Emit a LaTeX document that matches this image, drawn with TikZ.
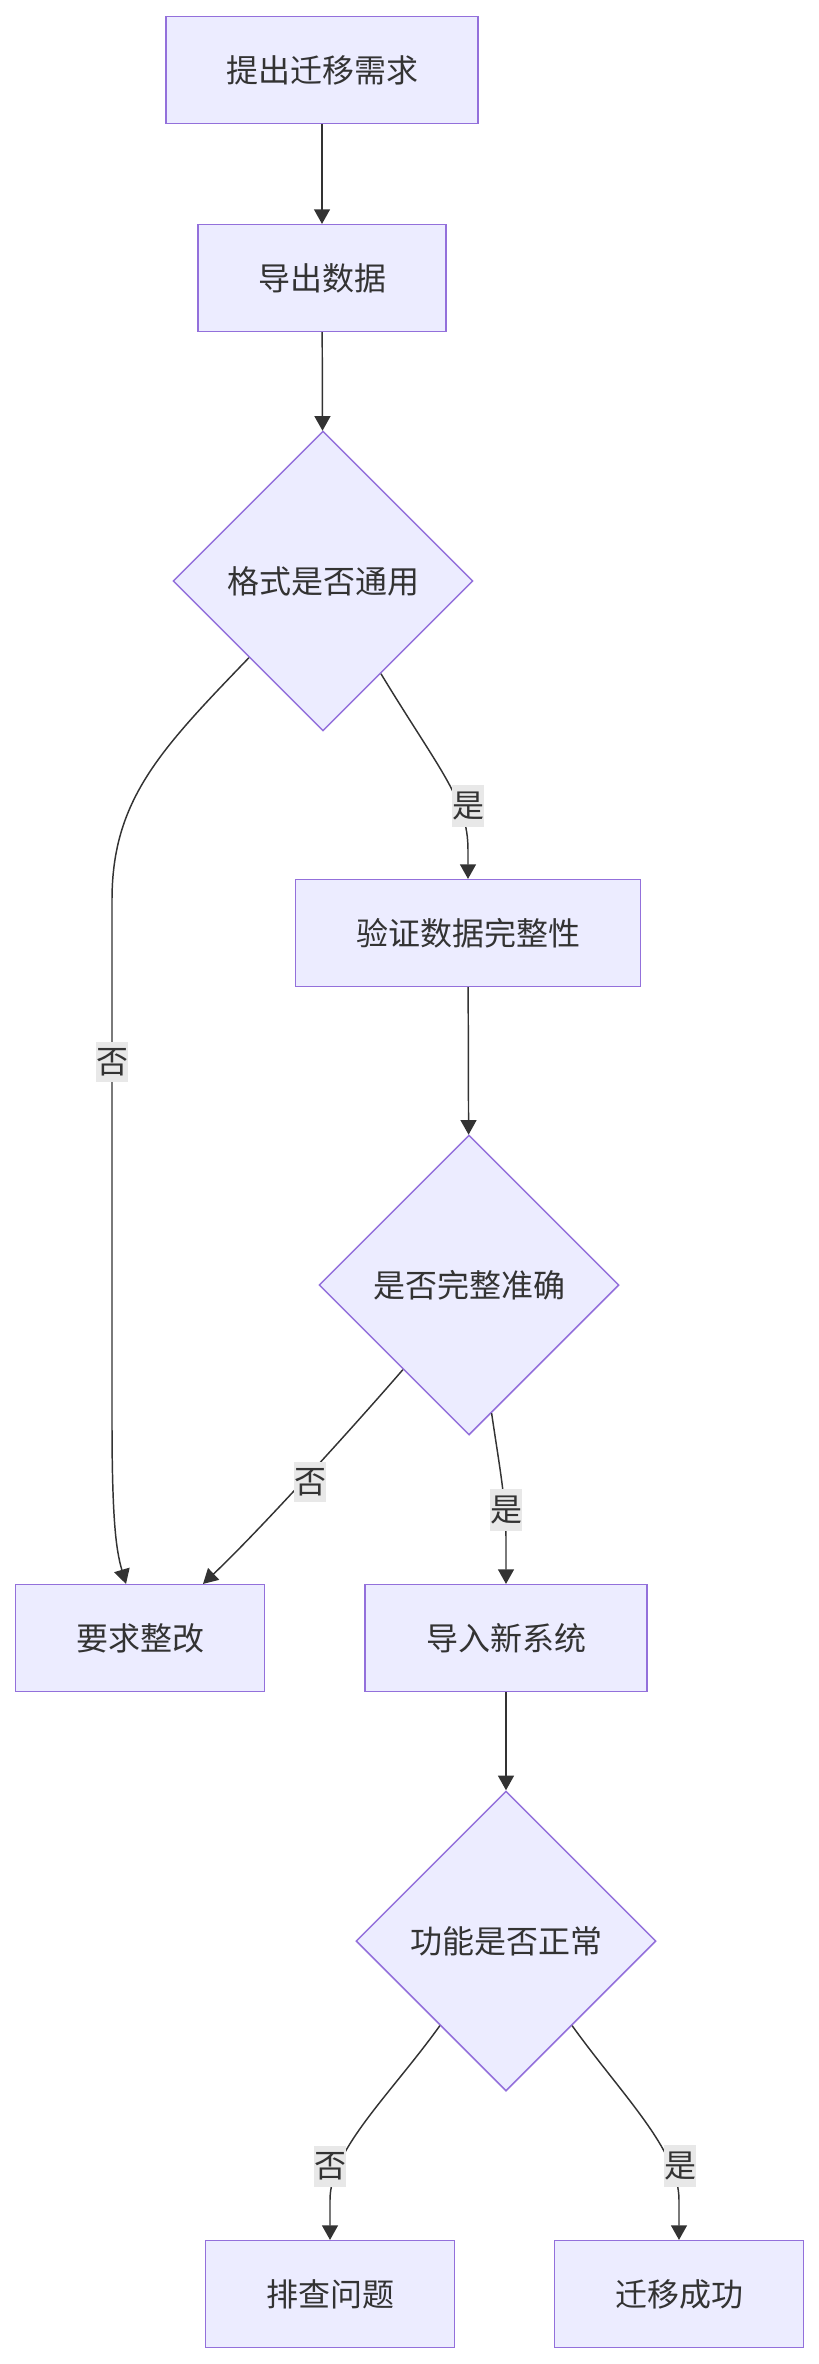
\documentclass[tikz,border=0pt]{standalone}
\usepackage{fontspec}
\newfontfamily\cjk{Noto Sans CJK SC}
\usetikzlibrary{shapes.geometric,arrows.meta,calc}
\definecolor{nodefill}{HTML}{ECECFF}
\definecolor{nodeborder}{HTML}{9370DB}
\definecolor{linecol}{HTML}{333333}
\definecolor{labelbg}{HTML}{E8E8E8}
\begin{document}
\begin{tikzpicture}[x=0.75pt,y=-0.75pt,
  txt/.style={font=\cjk\fontsize{24pt}{28pt}\selectfont, text=linecol},
  box/.style={txt, draw=nodeborder, fill=nodefill, line width=1.1pt, minimum height=80pt, inner sep=0pt},
  dia/.style={txt, diamond, aspect=1, draw=nodeborder, fill=nodefill, line width=1.1pt, minimum width=225pt, minimum height=225pt, inner sep=0pt},
  conn/.style={draw=linecol, line width=1.1pt, -{Triangle[length=11pt,width=12pt]}},
  elabel/.style={txt, fill=labelbg, inner xsep=0pt, inner ysep=5pt}]
\useasboundingbox (0,0) rectangle (818,2364);

\node[box, minimum width=234pt] (n1) at (322,70) {提出迁移需求};
\node[box, minimum width=186pt] (n2) at (322,278) {导出数据};
\node[dia] (d1) at (323,581) {格式是否通用};
\node[box, minimum width=259pt] (n3) at (468,933) {验证数据完整性};
\node[dia] (d2) at (469,1285) {是否完整准确};
\node[box, minimum width=187pt] (rework) at (140,1638) {要求整改};
\node[box, minimum width=211.5pt] (import) at (506,1638) {导入新系统};
\node[dia] (d3) at (506,1941) {功能是否正常};
\node[box, minimum width=187pt] (debug) at (330,2294) {排查问题};
\node[box, minimum width=187pt] (success) at (679,2294) {迁移成功};

\draw[conn] (n1) -- (n2);
\draw[conn] (n2) -- (d1);

% d1 -> n3 (yes)
\draw[conn] (d1.-58) .. controls (440,771) and (468,800) .. (468,850) -- (n3.north);
\node[elabel] (l1) at (468,806) {是};

% d1 -> rework (no)
\coordinate (r1) at ($(rework.north)+(-14,0)$);
\draw[conn] (d1.-134) .. controls (160,750) and (112,800) .. (112,900) -- (112,1420) .. controls (112,1520) and (116,1550) .. (r1);
\node[elabel] (l2) at (112,1062) {否};

\draw[conn] (n3) -- (d2);

% d2 -> rework (no)
\coordinate (r2) at ($(rework.north)+(63,0)$);
\draw[conn] (d2.-128) .. controls (355,1425) and (260,1530) .. (r2);
\node[elabel] (l3) at (310,1482) {否};

% d2 -> import (yes)
\draw[conn] (d2.-80) .. controls (500,1470) and (506,1500) .. (506,1540) -- (import.north);
\node[elabel] (l4) at (506,1510) {是};

\draw[conn] (import) -- (d3);

% d3 -> debug (no)
\draw[conn] (d3.-128) .. controls (390,2095) and (330,2150) .. (330,2200) -- (debug.north);
\node[elabel] (l5) at (330,2166) {否};

% d3 -> success (yes)
\draw[conn] (d3.-52) .. controls (622,2095) and (679,2150) .. (679,2200) -- (success.north);
\node[elabel] (l6) at (680,2166) {是};
\end{tikzpicture}
\end{document}
